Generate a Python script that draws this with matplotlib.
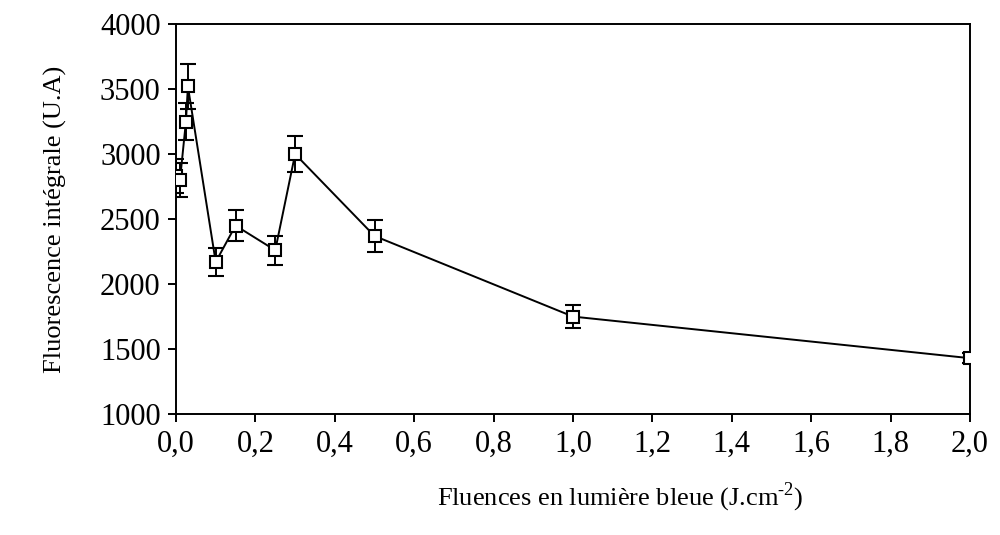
import matplotlib.pyplot as plt
from matplotlib.ticker import FuncFormatter

# fluence (J.cm-2) and integrated fluorescence (U.A)
fluence = [0.0, 0.01, 0.025, 0.03, 0.1, 0.15, 0.25, 0.3, 0.5, 1.0, 2.0]
fluo = [2830, 2800, 3250, 3520, 2170, 2450, 2260, 3000, 2370, 1750, 1430]
err = [130, 130, 140, 170, 110, 120, 110, 140, 120, 90, 40]

plt.rcParams['font.family'] = ['Liberation Serif', 'DejaVu Serif']
plt.rcParams['mathtext.fontset'] = 'custom'
plt.rcParams['mathtext.rm'] = 'Liberation Serif'

fig = plt.figure(figsize=(10, 5.35), dpi=100)
ax = fig.add_axes([0.176, 0.226, 0.794, 0.729])

ax.errorbar(fluence, fluo, yerr=err, color='black', lw=1.4,
            marker='s', ms=9, mfc='white', mec='black', mew=1.5,
            capsize=6, elinewidth=1.4, capthick=1.6, zorder=3)

ax.set_xlim(0, 2.0)
ax.set_ylim(1000, 4000)
ax.set_xticks([i * 0.2 for i in range(11)])
ax.set_yticks(range(1000, 4001, 500))
ax.xaxis.set_major_formatter(FuncFormatter(lambda v, p: f"{v:.1f}".replace('.', ',')))

ax.tick_params(direction='out', length=6, width=1.4, labelsize=22, pad=5)
for s in ax.spines.values():
    s.set_linewidth(1.4)

ax.set_ylabel('Fluorescence intégrale (U.A)', fontsize=19, labelpad=24)
ax.set_xlabel('Fluences en lumière bleue (J.cm$^{\\mathrm{\u2010}2}$)', fontsize=19)
ax.xaxis.set_label_coords(0.56, -0.17)

fig.savefig('out.png', dpi=100)
